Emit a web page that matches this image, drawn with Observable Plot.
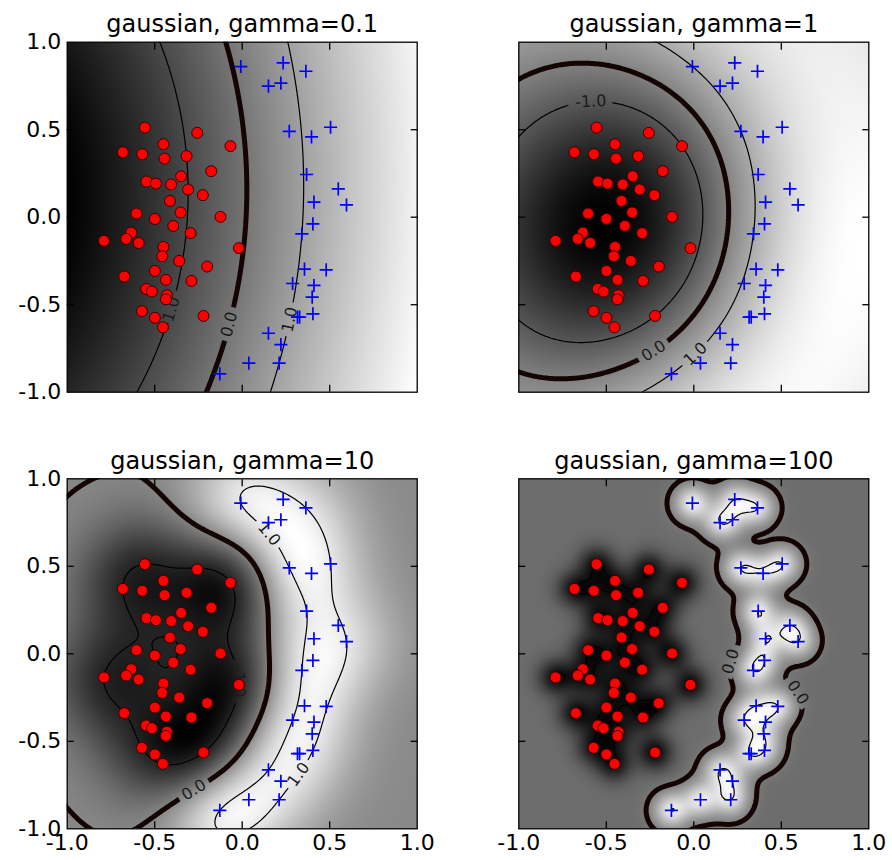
<!DOCTYPE html>
<html><head><meta charset="utf-8">
<script src="https://cdn.jsdelivr.net/npm/d3@7"></script>
<script src="https://cdn.jsdelivr.net/npm/@observablehq/plot@0.6"></script>
<style>
body{margin:0;background:#fff;}
#wrap{position:relative;width:892px;height:860px;font-family:"DejaVu Sans",sans-serif;overflow:hidden;}
#wrap > div, #wrap > svg{position:absolute;}
</style></head><body><div id="wrap"></div>
<script>
// ---------------- data ----------------
const redX = [-0.556,-0.257,-0.450,-0.067,-0.682,-0.571,-0.444,-0.318,-0.177,-0.349,-0.547,-0.493,-0.406,-0.309,-0.225,-0.413,-0.352,-0.604,-0.499,-0.124,-0.394,-0.295,-0.634,-0.663,-0.790,-0.592,-0.019,-0.450,-0.457,-0.360,-0.200,-0.499,-0.674,-0.436,-0.290,-0.549,-0.516,-0.430,-0.436,-0.573,-0.499,-0.221,-0.453];
const redY = [0.512,0.482,0.417,0.406,0.371,0.360,0.335,0.349,0.263,0.234,0.204,0.192,0.187,0.158,0.126,0.093,0.027,0.021,-0.010,0.002,-0.050,-0.091,-0.088,-0.124,-0.135,-0.147,-0.177,-0.170,-0.223,-0.250,-0.282,-0.307,-0.339,-0.358,-0.364,-0.410,-0.425,-0.446,-0.469,-0.537,-0.575,-0.564,-0.629];
const blueX = [-0.008,0.234,0.364,0.150,0.221,0.269,0.396,0.505,0.368,0.549,0.410,0.596,0.404,0.341,0.356,0.480,0.288,0.410,0.400,0.316,0.328,0.404,0.150,0.221,0.038,0.211,-0.128];
const blueY = [0.861,0.882,0.834,0.749,0.766,0.491,0.459,0.514,0.244,0.162,0.086,0.070,-0.038,-0.095,-0.297,-0.301,-0.379,-0.390,-0.457,-0.571,-0.571,-0.552,-0.663,-0.728,-0.834,-0.834,-0.895];
const gammas = [0.1, 1, 10, 100];
const titles = gammas.map(g => `gaussian, gamma=${g}`);
const tickValues = [-1, -0.5, 0, 0.5, 1];
const innerTicks = [-0.5, 0, 0.5];
const marginLevels = [-1, 1];
const boundaryLevel = [0];
const svmC = [4, 30, 10, 30];
// approximate anchors of the inline contour labels (panel, level, x, y in data units)
const labelPanel = [0, 0, 0, 1, 1, 1, 2, 2, 2, 2, 3, 3];
const labelLevel = [-1, 0, 1, -1, 0, 1, 1, -1, 0, 1, 0, 0];
const labelX = [-0.408, -0.088, 0.247, -0.583, -0.249, 0.008, 0.169, 0.007, -0.307, 0.293, 0.217, 0.627];
const labelY = [-0.543, -0.609, -0.581, 0.581, -0.733, -0.781, 0.697, -0.160, -0.714, -0.667, -0.046, -0.200];

// ---------------- SVM (SMO) on the points ----------------
const red = redX.map((x, i) => ({x, y: redY[i]}));
const blue = blueX.map((x, i) => ({x, y: blueY[i]}));
const P = [...red.map(d => ({...d, c: -1})), ...blue.map(d => ({...d, c: 1}))];

function train(gamma, C) {
  const n = P.length;
  const K = Array.from({length: n}, (_, i) => Float64Array.from({length: n}, (_, j) => {
    const dx = P[i].x - P[j].x, dy = P[i].y - P[j].y;
    return Math.exp(-gamma * (dx * dx + dy * dy));
  }));
  const Y = P.map(d => d.c);
  const A = new Float64Array(n);
  const G = new Float64Array(n).fill(-1);
  let m = 0, M = 0;
  for (let iter = 0; iter < 400000; ++iter) {
    let i = -1, j = -1; m = -Infinity; M = Infinity;
    for (let t = 0; t < n; ++t) {
      const v = -Y[t] * G[t];
      const up = (Y[t] > 0 && A[t] < C) || (Y[t] < 0 && A[t] > 0);
      const low = (Y[t] > 0 && A[t] > 0) || (Y[t] < 0 && A[t] < C);
      if (up && v > m) { m = v; i = t; }
      if (low && v < M) { M = v; j = t; }
    }
    if (m - M < 1e-6) break;
    const quad = Math.max(K[i][i] + K[j][j] - 2 * K[i][j], 1e-12);
    let step = (m - M) / quad;
    step = Math.min(step, Y[i] > 0 ? C - A[i] : A[i], Y[j] > 0 ? A[j] : C - A[j]);
    A[i] += Y[i] * step; A[j] -= Y[j] * step;
    for (let k = 0; k < n; ++k) G[k] += step * Y[k] * (K[k][i] - K[k][j]);
  }
  const b = (m + M) / 2;
  const sv = [];
  for (let t = 0; t < n; ++t) if (A[t] > 1e-9) sv.push({x: P[t].x, y: P[t].y, w: A[t] * Y[t]});
  const sx = Float64Array.from(sv, d => d.x), sy = Float64Array.from(sv, d => d.y), sw = Float64Array.from(sv, d => d.w);
  const L = sv.length;
  return (x, y) => {
    let s = b;
    for (let t = 0; t < L; ++t) {
      const dx = x - sx[t], dy = y - sy[t];
      s += sw[t] * Math.exp(-gamma * (dx * dx + dy * dy));
    }
    return s;
  };
}

// ---------------- layout ----------------
const FRAME = 350;
const frameLeft = [66.7, 518.3], frameTop = [41.7, 478.3];
const wrap = document.getElementById("wrap");
const fmt = d => d.toFixed(1);

function snapLabel(f, level, x, y) {
  const h = 1e-4;
  for (let k = 0; k < 8; ++k) {
    const v = f(x, y) - level;
    const fx = (f(x + h, y) - f(x - h, y)) / (2 * h), fy = (f(x, y + h) - f(x, y - h)) / (2 * h);
    const g2 = fx * fx + fy * fy;
    if (g2 < 1e-12) break;
    let s = v / g2;
    const len = Math.sqrt(s * s * g2);
    if (len > 0.05) s *= 0.05 / len;
    x -= s * fx; y -= s * fy;
  }
  const fx = (f(x + h, y) - f(x - h, y)) / (2 * h), fy = (f(x, y + h) - f(x, y - h)) / (2 * h);
  let ang = Math.atan2(-fx, -fy) * 180 / Math.PI;
  if (ang > 90) ang -= 180;
  if (ang <= -90) ang += 180;
  return {x, y, rotate: ang, text: fmt(level)};
}

gammas.forEach((gamma, k) => {
  const col = k % 2, row = Math.floor(k / 2);
  const f = train(gamma, svmC[k]);
  const left0 = col * 446, top0 = row * 430;
  const ml = frameLeft[col] - left0, mt = frameTop[row] - top0;
  const W = 446, H = 430;
  const labels = labelPanel.map((p, i) => p === k ? snapLabel(f, labelLevel[i], labelX[i], labelY[i]) : null).filter(Boolean);
  const ext = {x1: -1.2, x2: 1.2, y1: -1.2, y2: 1.2};
  const marks = [
    Plot.raster({fill: f, x1: -1, x2: 1, y1: -1, y2: 1, pixelSize: 1}),
    Plot.contour({value: f, ...ext, pixelSize: 2, thresholds: marginLevels, stroke: "#000", strokeWidth: 1.2, fill: "none", clip: true}),
    Plot.contour({value: f, ...ext, pixelSize: 2, thresholds: boundaryLevel, stroke: "#140404", strokeWidth: 5, fill: "none", clip: true}),
    Plot.text(labels, {x: "x", y: "y", text: "text", rotate: "rotate", fontSize: 16, fill: "#1a1a1a", fontFamily: "DejaVu Sans"}),
    Plot.dot(red, {x: "x", y: "y", r: 5.5, fill: "#ff0000", stroke: "#3a0000", strokeWidth: 1}),
    Plot.dot(blue, {x: "x", y: "y", r: 4.3, symbol: "plus", stroke: "#0000ff", strokeWidth: 1.7}),
    Plot.frame({stroke: "#000", strokeWidth: 1.3}),
    Plot.axisX({anchor: "bottom", ticks: innerTicks, tickSize: -7, tickFormat: () => "", strokeWidth: 1.3}),
    Plot.axisX({anchor: "top", ticks: innerTicks, tickSize: -7, tickFormat: () => "", strokeWidth: 1.3}),
    Plot.axisY({anchor: "left", ticks: innerTicks, tickSize: -7, tickFormat: () => "", strokeWidth: 1.3}),
    Plot.axisY({anchor: "right", ticks: innerTicks, tickSize: -7, tickFormat: () => "", strokeWidth: 1.3}),
    Plot.text([titles[k]], {frameAnchor: "top", dy: -10, lineAnchor: "bottom", fontSize: 24, fill: "#000", fontFamily: "DejaVu Sans"})
  ];
  if (col === 0) marks.push(Plot.axisY({anchor: "left", ticks: tickValues, tickSize: 0, tickPadding: 6, tickFormat: fmt, fontSize: 22, fill: "#000"}));
  if (row === 1) marks.push(Plot.axisX({anchor: "bottom", ticks: tickValues, tickSize: 0, tickPadding: 6, tickFormat: fmt, fontSize: 22, fill: "#000"}));
  const svg = Plot.plot({
    width: W, height: H,
    marginLeft: ml, marginTop: mt, marginRight: W - ml - FRAME, marginBottom: H - mt - FRAME,
    style: {fontFamily: "DejaVu Sans", background: "transparent", overflow: "visible"},
    x: {domain: [-1, 1], label: null, axis: null},
    y: {domain: [-1, 1], label: null, axis: null},
    color: {type: "linear", range: ["#000000", "#ffffff"]},
    marks
  });
  svg.style.left = left0 + "px"; svg.style.top = top0 + "px";
  // inline-label gaps in the contour lines
  const xs = svg.scale("x"), ys = svg.scale("y");
  const ns = "http://www.w3.org/2000/svg";
  const defs = document.createElementNS(ns, "defs");
  const mask = document.createElementNS(ns, "mask");
  const id = "lblmask" + k;
  mask.setAttribute("id", id); mask.setAttribute("maskUnits", "userSpaceOnUse");
  mask.setAttribute("x", 0); mask.setAttribute("y", 0); mask.setAttribute("width", W); mask.setAttribute("height", H);
  const bg = document.createElementNS(ns, "rect");
  bg.setAttribute("width", W); bg.setAttribute("height", H); bg.setAttribute("fill", "white");
  mask.appendChild(bg);
  labels.forEach(l => {
    const px = xs.apply(l.x), py = ys.apply(l.y);
    const w = l.text.length * 9.5 + 6, h = 14;
    const r = document.createElementNS(ns, "rect");
    r.setAttribute("x", -w / 2); r.setAttribute("y", -h / 2); r.setAttribute("width", w); r.setAttribute("height", h);
    r.setAttribute("fill", "black");
    r.setAttribute("transform", `translate(${px},${py}) rotate(${l.rotate})`);
    mask.appendChild(r);
  });
  defs.appendChild(mask);
  svg.insertBefore(defs, svg.firstChild);
  svg.querySelectorAll('g[aria-label="contour"]').forEach(g => g.setAttribute("mask", `url(#${id})`));
  wrap.appendChild(svg);
});
</script></body></html>
